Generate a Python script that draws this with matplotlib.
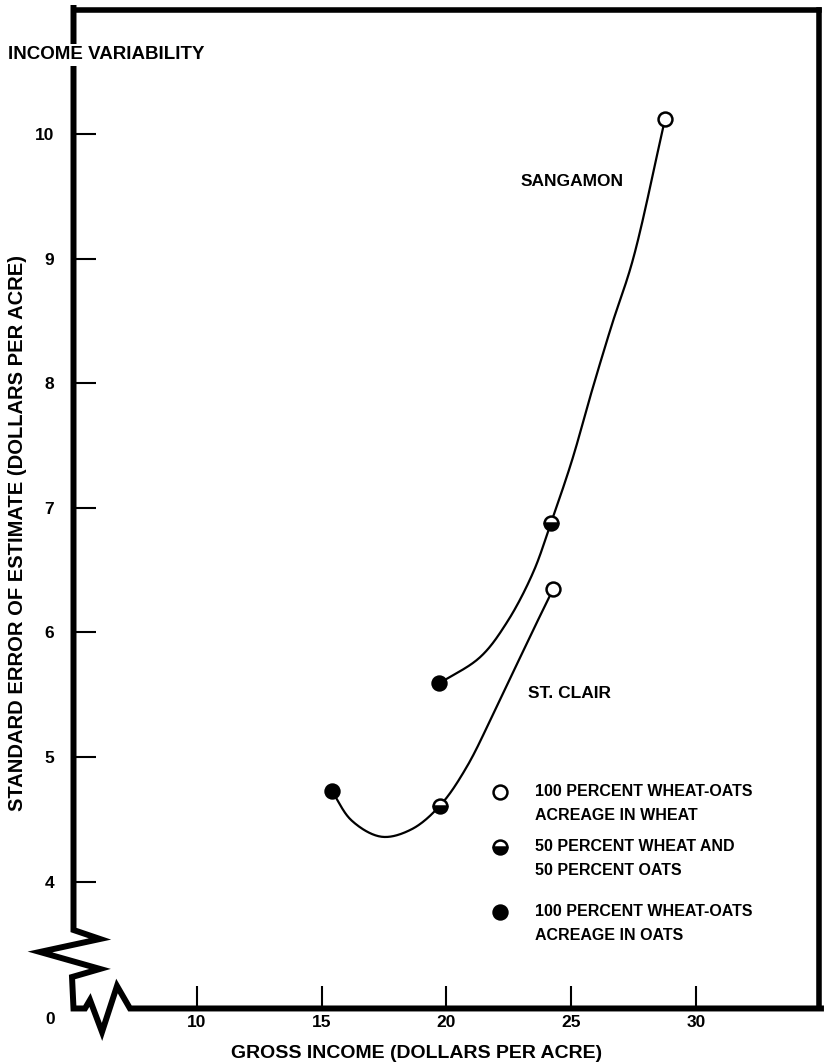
import numpy as np
import matplotlib.pyplot as plt
from matplotlib.lines import Line2D

plt.rcParams['font.family'] = ['Liberation Sans', 'DejaVu Sans']
plt.rcParams['font.weight'] = 'bold'

# ---- values ----
# marker points: 100% wheat, 50/50, 100% oats
sang_x = [28.76, 24.19, 19.70]
sang_y = [10.12, 6.88, 5.59]
stclair_x = [24.28, 19.74, 15.40]
stclair_y = [6.35, 4.61, 4.73]

# hand-drawn connecting curves
sang_curve_x = [19.70, 21.34, 22.42, 23.47, 24.19, 25.03, 25.83, 26.63, 27.47, 28.76]
sang_curve_y = [5.59, 5.80, 6.08, 6.48, 6.88, 7.38, 7.94, 8.47, 8.99, 10.12]
stclair_curve_x = [15.40, 16.20, 17.40, 18.60, 19.74, 20.81, 22.14, 23.55, 24.28]
stclair_curve_y = [4.73, 4.49, 4.36, 4.42, 4.61, 4.92, 5.46, 6.05, 6.35]

x_ticks = [10, 15, 20, 25, 30]
y_ticks = [4, 5, 6, 7, 8, 9, 10]

legend_lines = [
    ['100 PERCENT WHEAT-OATS', 'ACREAGE IN WHEAT'],
    ['50 PERCENT WHEAT AND', '50 PERCENT OATS'],
    ['100 PERCENT WHEAT-OATS', 'ACREAGE IN OATS'],
]
legend_fill = ['none', 'bottom', 'full']


def smooth(xs, ys, yscale=5.0, n=30):
    # centripetal catmull-rom through the traced points (roughly isotropic units)
    p = np.column_stack([np.asarray(xs, float), np.asarray(ys, float) * yscale])
    p = np.vstack([2 * p[0] - p[1], p, 2 * p[-1] - p[-2]])
    out = []
    for i in range(1, len(p) - 2):
        p0, p1, p2, p3 = p[i - 1], p[i], p[i + 1], p[i + 2]
        t0 = 0.0
        t1 = t0 + np.linalg.norm(p1 - p0) ** 0.5
        t2 = t1 + np.linalg.norm(p2 - p1) ** 0.5
        t3 = t2 + np.linalg.norm(p3 - p2) ** 0.5
        for t in np.linspace(t1, t2, n, endpoint=False):
            a1 = (t1 - t) / (t1 - t0) * p0 + (t - t0) / (t1 - t0) * p1
            a2 = (t2 - t) / (t2 - t1) * p1 + (t - t1) / (t2 - t1) * p2
            a3 = (t3 - t) / (t3 - t2) * p2 + (t - t2) / (t3 - t2) * p3
            b1 = (t2 - t) / (t2 - t0) * a1 + (t - t0) / (t2 - t0) * a2
            b2 = (t3 - t) / (t3 - t1) * a2 + (t - t1) / (t3 - t1) * a3
            out.append((t2 - t) / (t2 - t1) * b1 + (t - t1) / (t2 - t1) * b2)
    out.append(p[-2])
    out = np.array(out)
    return out[:, 0], out[:, 1] / yscale


fig = plt.figure(figsize=(8.25, 10.62), dpi=100)
ax = fig.add_axes([0.0891, 0.0504, 0.9042, 0.9402])
ax.set_xlim(5.05, 34.95)
ax.set_ylim(2.982, 10.995)

# curves
for cx, cy in [(sang_curve_x, sang_curve_y), (stclair_curve_x, stclair_curve_y)]:
    sx, sy = smooth(cx, cy)
    ax.plot(sx, sy, color='black', lw=1.6, zorder=2)

# markers
mk = dict(marker='o', ms=10, mew=1.8, mec='black', color='black',
          markerfacecoloralt='white', linestyle='none', zorder=3)
for xs, ys in [(sang_x, sang_y), (stclair_x, stclair_y)]:
    for xv, yv, fs in zip(xs, ys, legend_fill):
        if fs == 'none':
            ax.plot(xv, yv, mfc='white', **mk)
        else:
            ax.plot(xv, yv, fillstyle=fs, mfc='black', **mk)

ax.text(22.95, 9.615, 'SANGAMON', fontsize=12.5, ha='left', va='center')
ax.text(23.27, 5.51, 'ST. CLAIR', fontsize=12.5, ha='left', va='center')

# legend drawn by hand so the symbol sits on the first line
leg_y = [4.72, 4.28, 3.76]
for ly, lines, fs in zip(leg_y, legend_lines, legend_fill):
    if fs == 'none':
        ax.plot(22.14, ly, mfc='white', **mk)
    else:
        ax.plot(22.14, ly, fillstyle=fs, mfc='black', **mk)
    ax.text(23.55, ly, lines[0], fontsize=11.5, ha='left', va='center')
    ax.text(23.55, ly - 0.19, lines[1], fontsize=11.5, ha='left', va='center')

# frame: top/right plain, left/bottom with axis breaks
for s in ['left', 'bottom']:
    ax.spines[s].set_visible(False)
for s in ['top', 'right']:
    ax.spines[s].set_linewidth(4)
frame_x = [0, 0, 0.0355, -0.045, 0.0355, -0.002, 0, 0.0154, 0.0221, 0.0382, 0.0583, 0.0757, 1.002]
frame_y = [1.002, 0.0786, 0.0696, 0.0566, 0.0396, 0.0315, 0, 0, 0.0085, -0.0235, 0.0225, 0, 0]
ax.add_line(Line2D(frame_x, frame_y, transform=ax.transAxes, color='black', lw=4.3,
                   solid_joinstyle='miter', clip_on=False, zorder=5))

ax.set_xticks(x_ticks)
ax.set_yticks(y_ticks)
ax.tick_params(axis='x', direction='in', length=16, width=1.5, pad=5, labelsize=12.5)
ax.tick_params(axis='y', direction='in', length=16, width=1.5, pad=14, labelsize=12.5)

ax.text(-0.0315, -0.0115, '0', transform=ax.transAxes, fontsize=12.5, ha='center', va='center')
ax.text(-0.0878, 0.955, 'INCOME VARIABILITY', transform=ax.transAxes, fontsize=13.5,
        ha='left', va='center', zorder=10,
        bbox=dict(facecolor='white', edgecolor='none', pad=2))
ax.text(-0.0757, 0.476, 'STANDARD ERROR OF ESTIMATE (DOLLARS PER ACRE)', transform=ax.transAxes,
        fontsize=14.5, rotation=90, ha='center', va='center')
ax.text(0.4605, -0.0446, 'GROSS INCOME (DOLLARS PER ACRE)', transform=ax.transAxes,
        fontsize=14, ha='center', va='center')

fig.savefig('out.png', dpi=100)
